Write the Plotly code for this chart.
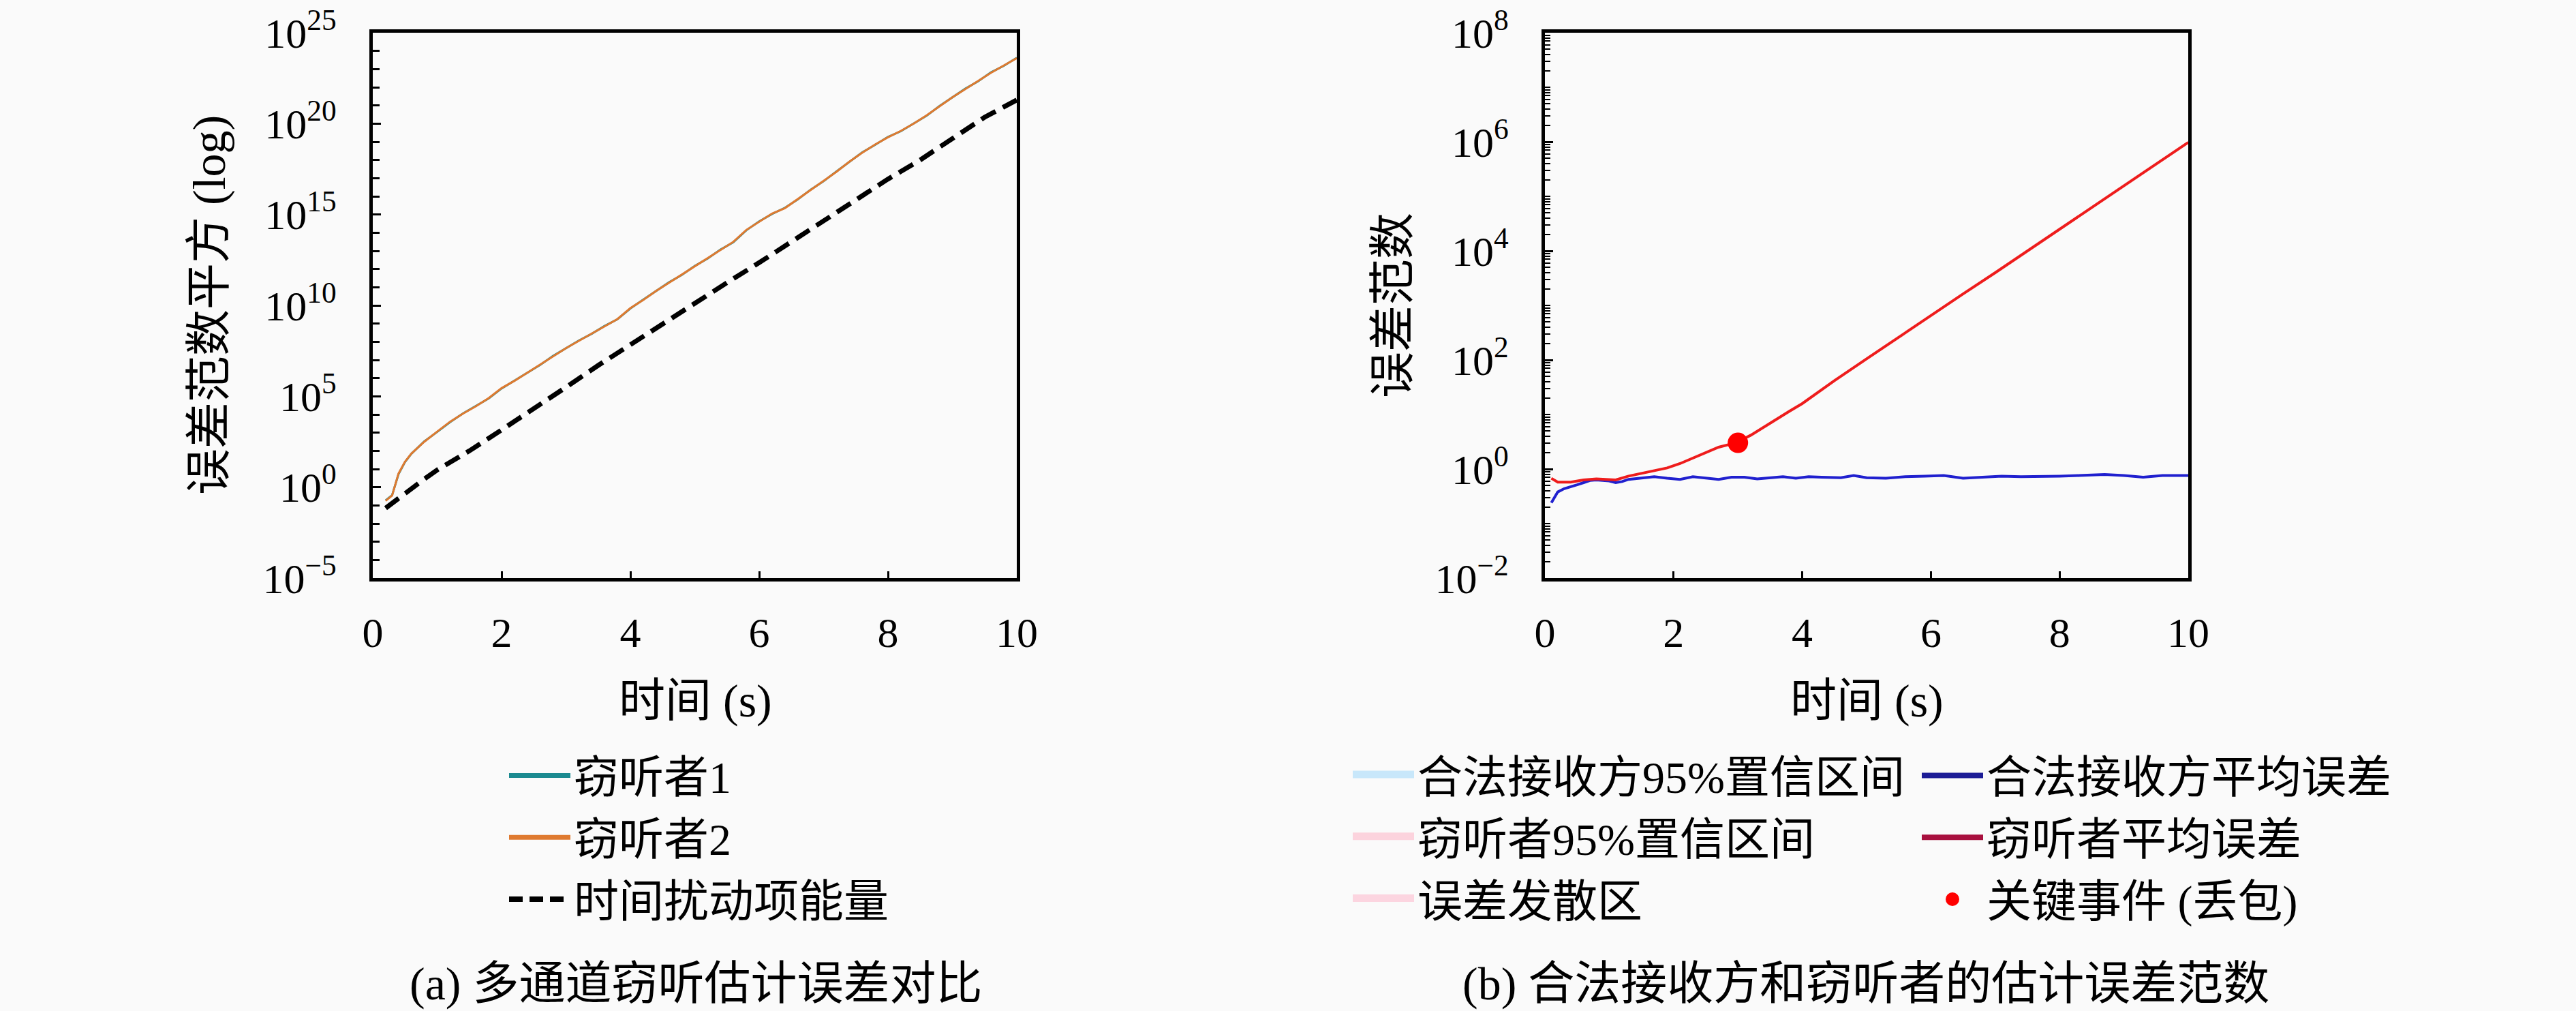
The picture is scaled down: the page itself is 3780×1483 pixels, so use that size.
import numpy as np
import plotly.graph_objects as go

# ---- (a) 多通道窃听估计误差对比 : log10 of the squared error norm ----
t_a = [0.2, 0.3, 0.4, 0.5, 0.6, 0.8, 1.0, 1.2, 1.4, 1.6, 1.8, 2.0, 2.2, 2.4, 2.6, 2.8,
       3.0, 3.2, 3.4, 3.6, 3.8, 4.0, 4.2, 4.4, 4.6, 4.8, 5.0, 5.2, 5.4, 5.6, 5.8, 6.0,
       6.2, 6.4, 6.6, 6.8, 7.0, 7.2, 7.4, 7.6, 7.8, 8.0, 8.2, 8.4, 8.6, 8.8, 9.0, 9.2,
       9.4, 9.6, 9.8, 10.0]
eve1_exp = [-0.72, -0.44, 0.72, 1.38, 1.84, 2.52, 3.04, 3.58, 4.06, 4.47, 4.88, 5.43,
            5.87, 6.28, 6.73, 7.22, 7.63, 8.07, 8.44, 8.87, 9.24, 9.83, 10.32, 10.78,
            11.27, 11.68, 12.17, 12.58, 13.07, 13.48, 14.13, 14.62, 15.03, 15.37, 15.83,
            16.37, 16.83, 17.37, 17.88, 18.42, 18.83, 19.27, 19.58, 20.02, 20.43, 20.97,
            21.43, 21.92, 22.33, 22.82, 23.18, 23.62]
eve2_exp = [-0.75, -0.46, 0.75, 1.40, 1.85, 2.50, 3.06, 3.60, 4.05, 4.45, 4.90, 5.45,
            5.85, 6.30, 6.75, 7.20, 7.65, 8.05, 8.45, 8.85, 9.25, 9.85, 10.30, 10.80,
            11.25, 11.70, 12.15, 12.60, 13.05, 13.50, 14.15, 14.60, 15.05, 15.35, 15.85,
            16.35, 16.85, 17.35, 17.90, 18.40, 18.85, 19.25, 19.60, 20.00, 20.45, 20.95,
            21.45, 21.90, 22.35, 22.80, 23.20, 23.60]
t_dist = [0.2, 0.4, 0.6, 0.8, 1.0, 1.5, 2.0, 2.5, 3.0, 3.5, 4.0, 4.5, 5.0, 5.5, 6.0,
          6.5, 7.0, 7.5, 8.0, 8.5, 9.0, 9.5, 10.0]
dist_exp = [-1.15, -0.6, -0.08, 0.45, 0.95, 2.0, 3.15, 4.3, 5.5, 6.7, 7.85, 9.0, 10.1,
            11.25, 12.35, 13.5, 14.6, 15.75, 16.95, 18.0, 19.2, 20.35, 21.3]

# ---- (b) 合法接收方和窃听者的估计误差范数 : log10 of the error norm ----
t_legit = [0.1, 0.2, 0.3, 0.4, 0.5, 0.6, 0.7, 0.8, 0.9, 1.0, 1.1, 1.2, 1.3, 1.5, 1.7,
           1.9, 2.1, 2.3, 2.5, 2.7, 2.9, 3.1, 3.3, 3.5, 3.7, 3.9, 4.1, 4.3, 4.6, 4.8,
           5.0, 5.3, 5.6, 5.9, 6.2, 6.5, 6.8, 7.1, 7.4, 7.7, 8.0, 8.3, 8.7, 9.0, 9.3,
           9.6, 10.0]
legit_exp = [-0.62, -0.42, -0.36, -0.33, -0.29, -0.25, -0.21, -0.2, -0.21, -0.22, -0.25,
             -0.23, -0.19, -0.17, -0.14, -0.17, -0.19, -0.14, -0.16, -0.19, -0.15, -0.15,
             -0.18, -0.16, -0.14, -0.17, -0.14, -0.15, -0.16, -0.12, -0.16, -0.17, -0.14,
             -0.13, -0.12, -0.17, -0.15, -0.13, -0.14, -0.14, -0.13, -0.12, -0.1, -0.12,
             -0.15, -0.12, -0.12]
t_eve = [0.1, 0.2, 0.4, 0.6, 0.8, 1.0, 1.1, 1.3, 1.5, 1.7, 1.9, 2.1, 2.3, 2.5, 2.7,
         2.9, 3.0, 3.2, 3.4, 3.6, 3.8, 4.0, 4.5, 5.0, 5.5, 6.0, 6.5, 7.0, 7.5, 8.0,
         8.5, 9.0, 9.5, 10.0]
eve_exp = [-0.17, -0.24, -0.24, -0.2, -0.18, -0.19, -0.2, -0.13, -0.08, -0.03, 0.02,
           0.1, 0.2, 0.3, 0.4, 0.46, 0.5, 0.62, 0.77, 0.92, 1.06, 1.2, 1.62, 2.02,
           2.42, 2.82, 3.21, 3.6, 4.0, 4.4, 4.8, 5.2, 5.6, 5.99]
event_t = [3.0]
event_exp = [0.48]

x_ticks = [0, 2, 4, 6, 8, 10]
ya_exps = [-5, 0, 5, 10, 15, 20, 25]
yb_exps = [-2, 0, 2, 4, 6, 8]

FONT = "Liberation Serif, Noto Sans CJK SC, serif"
BG = "#fafafa"
W, H = 3780, 1483


def pw(e):
    return [10.0 ** v for v in e]


def sup(e):
    return ["10<sup>%s</sup>" % str(v).replace("-", "\u2212") for v in e]


def key_line(name, color, width, legend, group, xa="x", ya="y", dash=None):
    # legend-only entry, so the key can be drawn thicker than the curve
    return go.Scatter(x=[None], y=[None], xaxis=xa, yaxis=ya, mode="lines", name=name,
                      line=dict(color=color, width=width, dash=dash), legend=legend,
                      legendgroup=group)


fig = go.Figure()

# left panel
fig.add_trace(go.Scatter(x=t_a, y=pw(eve1_exp), mode="lines", showlegend=False,
                         line=dict(color="#1b8a90", width=3), legendgroup="a1"))
fig.add_trace(go.Scatter(x=t_a, y=pw(eve2_exp), mode="lines", showlegend=False,
                         line=dict(color="#df7a30", width=3), legendgroup="a2"))
fig.add_trace(go.Scatter(x=t_dist, y=pw(dist_exp), mode="lines", name="时间扰动项能量",
                         line=dict(color="black", width=7, dash="24px,12px"),
                         showlegend=False, legendgroup="a3"))
fig.add_trace(key_line("窃听者1", "#1b8a90", 7, "legend", "a1"))
fig.add_trace(key_line("窃听者2", "#df7a30", 7, "legend", "a2"))
fig.add_trace(key_line("时间扰动项能量", "black", 8, "legend", "a3", dash="20px,10px"))

# right panel, legend column 1 (bands are too thin to see in the figure)
band_cols = ["#c8e7fa", "#fcd3dd", "#fcd5e0"]
band_names = ["合法接收方95%置信区间", "窃听者95%置信区间", "误差发散区"]
for i, (nm, col) in enumerate(zip(band_names, band_cols)):
    fig.add_trace(go.Scatter(x=[None], y=[None], xaxis="x2", yaxis="y2", mode="lines",
                             fill="toself", fillcolor=col, line=dict(width=16, color=col),
                             name=nm, legend="legend2", legendgroup="b%d" % i))

# right panel, legend column 2
fig.add_trace(go.Scatter(x=t_legit, y=pw(legit_exp), xaxis="x2", yaxis="y2",
                         mode="lines", showlegend=False,
                         line=dict(color="#2020cf", width=4), legendgroup="c1"))
fig.add_trace(go.Scatter(x=t_eve, y=pw(eve_exp), xaxis="x2", yaxis="y2",
                         mode="lines", showlegend=False,
                         line=dict(color="#ee1c1c", width=4), legendgroup="c2"))
fig.add_trace(key_line("合法接收方平均误差", "#1c1c96", 8, "legend3", "c1", "x2", "y2"))
fig.add_trace(key_line("窃听者平均误差", "#a8103e", 8, "legend3", "c2", "x2", "y2"))
fig.add_trace(go.Scatter(x=event_t, y=pw(event_exp), xaxis="x2", yaxis="y2",
                         mode="markers", name="关键事件 (丢包)",
                         marker=dict(color="#ff0000", size=26,
                                     line=dict(color="#ff0000", width=4)),
                         legend="legend3", legendgroup="c3"))

tickfont = dict(family=FONT, size=62, color="black")
xcommon = dict(range=[0, 10], tickvals=x_ticks, ticks="inside", ticklen=10,
               tickwidth=3, tickcolor="black", showline=True, linewidth=5,
               linecolor="black", mirror=True, showgrid=False, zeroline=False,
               tickfont=tickfont, ticklabelstandoff=22, automargin=False)
ycommon = dict(type="log", ticks="inside", ticklen=12, tickwidth=3,
               tickcolor="black", showline=True, linewidth=5, linecolor="black",
               mirror=True, showgrid=False, zeroline=False, tickfont=tickfont,
               ticklabelstandoff=36, automargin=False)

x0, x1 = 547 / W, 1492 / W
x2, x3 = 2267 / W, 3211 / W
yd = [(H - 848) / H, (H - 48) / H]

leg = dict(font=dict(family=FONT, size=66, color="black"), bgcolor="rgba(0,0,0,0)",
           yanchor="top", xanchor="left", tracegroupgap=2, y=(H - 1088) / H,
           itemwidth=90)

fig.update_layout(
    width=W, height=H, margin=dict(l=0, r=0, t=0, b=0, autoexpand=False),
    paper_bgcolor=BG, plot_bgcolor=BG, font=dict(family=FONT, color="black"),
    xaxis=dict(domain=[x0, x1], anchor="y", **xcommon),
    yaxis=dict(domain=yd, anchor="x", range=[-5, 25], tickvals=pw(ya_exps),
               ticktext=sup(ya_exps),
               minor=dict(dtick=1, ticks="inside", ticklen=10, tickwidth=3,
                          tickcolor="black"), **ycommon),
    xaxis2=dict(domain=[x2, x3], anchor="y2", **xcommon),
    yaxis2=dict(domain=yd, anchor="x2", range=[-2, 8], tickvals=pw(yb_exps),
                ticktext=sup(yb_exps),
                minor=dict(dtick="D1", ticks="inside", ticklen=8, tickwidth=2,
                           tickcolor="black"), **ycommon),
    legend=dict(x=742 / W, **leg),
    legend2=dict(x=1980 / W, **leg),
    legend3=dict(x=2815 / W, **leg),
    showlegend=True,
)

ann_font = dict(family=FONT, size=68, color="black")
notes = [
    (1020 / W, (H - 1028) / H, "时间 (s)", 0),
    (2739 / W, (H - 1028) / H, "时间 (s)", 0),
    (307 / W, (H - 448) / H, "误差范数平方 (log)", -90),
    (2044 / W, (H - 448) / H, "误差范数", -90),
    (1021 / W, (H - 1443) / H, "(a) 多通道窃听估计误差对比", 0),
    (2738 / W, (H - 1443) / H, "(b) 合法接收方和窃听者的估计误差范数", 0),
]
for ax, ay, txt, ang in notes:
    fig.add_annotation(x=ax, y=ay, xref="paper", yref="paper", text=txt,
                       showarrow=False, textangle=ang, font=ann_font,
                       xanchor="center", yanchor="middle")

fig.write_html("out.html", config={"displayModeBar": False},
               post_script="document.body.style.margin='0';"
                           "document.body.style.overflow='hidden';")
